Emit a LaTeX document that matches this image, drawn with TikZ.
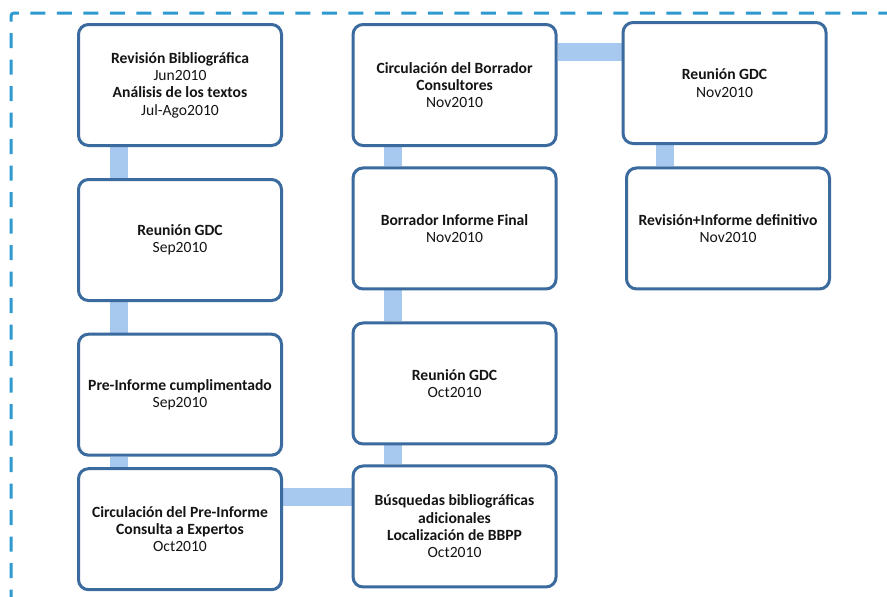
\documentclass[tikz,border=0pt]{standalone}
\usepackage{fontspec}
\setmainfont{Carlito}
\usepackage{tikz}
\usetikzlibrary{backgrounds}
\usepackage{xcolor}
\definecolor{borde}{RGB}{58,106,158}
\definecolor{celeste}{RGB}{167,201,239}
\definecolor{azulmarco}{RGB}{46,154,208}
\definecolor{texto}{RGB}{20,20,20}

\begin{document}
\begin{tikzpicture}[x=0.75pt,y=-0.75pt,node distance=116.25pt,font=\fontsize{11.7}{13}\selectfont]
\tikzstyle{tarea}=[draw=borde,line width=2.25pt,rounded corners=7.5pt,fill=white,text=texto,align=center,minimum width=152.25pt,minimum height=90.75pt,inner sep=2pt]
\tikzstyle{tramo}=[draw=celeste,line width=13.5pt]
\tikzstyle{marco}=[draw=azulmarco,line width=2.25pt,rounded corners=2.25pt,dash pattern=on 11.25pt off 8.625pt]
\useasboundingbox (0,0) rectangle (887,596);

\draw[marco] (11,631) -- (11,13) -- (905,13);

\node[tarea]         (A1) at (180,85)  {\textbf{Revisión Bibliográfica}\\Jun2010\\\textbf{Análisis de los textos}\\Jul-Ago2010};
\node[tarea]         (A2) [below of=A1] {\textbf{Reunión GDC}\\Sep2010};
\node[tarea]         (A3) [below of=A2,node distance=116pt] {\textbf{Pre-Informe cumplimentado}\\Sep2010};
\node[tarea]         (A4) [below of=A3,node distance=100.9pt] {\textbf{Circulación del Pre-Informe}\\\textbf{Consulta a Expertos}\\Oct2010};
\node[tarea]         (B1) [right of=A1,node distance=205.9pt] {\textbf{Circulación del Borrador}\\\textbf{Consultores}\\Nov2010};
\node[tarea]         (B2) [below of=B1,node distance=107.6pt] {\textbf{Borrador Informe Final}\\Nov2010};
\node[tarea]         (B3) [below of=B2] {\textbf{Reunión GDC}\\Oct2010};
\node[tarea]         (B4) [below of=B3,node distance=107.25pt] {\textbf{Búsquedas bibliográficas}\\\textbf{adicionales}\\\textbf{Localización de BBPP}\\Oct2010};
\node[tarea]         (C1) [right of=B1,node distance=202.5pt,yshift=1.5pt] {\textbf{Reunión GDC}\\Nov2010};
\node[tarea]         (C2) [below of=C1,node distance=109.1pt,xshift=2.6pt] {\textbf{Revisión+Informe definitivo}\\Nov2010};

\begin{scope}[on background layer]
\draw[tramo] ([xshift=-45.75pt]A1.south) -- ([xshift=-45.75pt]A2.north);
\draw[tramo] ([xshift=-45.75pt]A2.south) -- ([xshift=-45.75pt]A3.north);
\draw[tramo] ([xshift=-45.75pt]A3.south) -- ([xshift=-45.75pt]A4.north);
\draw[tramo] ([yshift=24pt]A4.east) -- ([yshift=24pt]A4.east -| B4.west);
\draw[tramo] ([xshift=-46pt]B4.north) -- ([xshift=-46pt]B3.south);
\draw[tramo] ([xshift=-46pt]B3.north) -- ([xshift=-46pt]B2.south);
\draw[tramo] ([xshift=-46pt]B2.north) -- ([xshift=-46pt]B1.south);
\draw[tramo] ([yshift=24.4pt]B1.east) -- ([yshift=24.4pt]B1.east -| C1.west);
\draw[tramo] ([xshift=-44.6pt]C1.south) -- ([xshift=-44.6pt]C1.south |- C2.north);
\end{scope}
\end{tikzpicture}
\end{document}
